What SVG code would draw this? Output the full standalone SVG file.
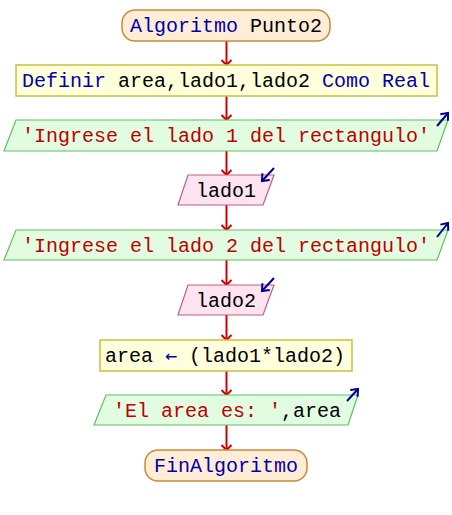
<svg xmlns="http://www.w3.org/2000/svg" width="452" height="515" viewBox="0 0 452 515">
<defs>
<style>
.t{font-family:"Liberation Mono","DejaVu Sans Mono",monospace;font-size:20px;text-anchor:middle}
.kw{fill:#0000b0}
.id{fill:#000000}
.st{fill:#c00000}
.term{fill:#ffeed5;stroke:#c88a3c;stroke-width:1.5}
.proc{fill:#ffffdc;stroke:#c8c040;stroke-width:1.5}
.out{fill:#e2fce2;stroke:#60c060;stroke-width:1.2}
.in{fill:#fde4f0;stroke:#c06080;stroke-width:1.2}
.flow{stroke:#d00000;stroke-width:2;fill:none}
.io{stroke:#000090;stroke-width:2;fill:none}
</style>
<marker id="ah" markerUnits="userSpaceOnUse" viewBox="-7 -7 9 14" markerWidth="9" markerHeight="14" refX="0" refY="0" orient="auto">
<path d="M-5,-5 L0,0 L-5,5" stroke="#d00000" stroke-width="2" fill="none"/>
</marker>
<marker id="bh" markerUnits="userSpaceOnUse" viewBox="-8 -8 10 16" markerWidth="10" markerHeight="16" refX="0" refY="0" orient="auto">
<path d="M-6,-5 L0,0 L-6,5" stroke="#000090" stroke-width="2" fill="none"/>
</marker>
</defs>
<rect width="452" height="515" fill="#ffffff"/>
<g id="connectors">
<path class="flow" d="M226.5,41 V65" marker-end="url(#ah)"/>
<path class="flow" d="M226.5,96 V120" marker-end="url(#ah)"/>
<path class="flow" d="M226.5,151 V175" marker-end="url(#ah)"/>
<path class="flow" d="M226.5,205 V230" marker-end="url(#ah)"/>
<path class="flow" d="M226.5,260 V285" marker-end="url(#ah)"/>
<path class="flow" d="M226.5,315 V340" marker-end="url(#ah)"/>
<path class="flow" d="M226.5,371 V395" marker-end="url(#ah)"/>
<path class="flow" d="M226.5,425 V450" marker-end="url(#ah)"/>
</g>
<g id="start">
<rect class="term" x="122" y="10" width="208" height="31" rx="13"/>
<text class="t" x="226" y="32"><tspan class="kw">Algoritmo</tspan><tspan class="id"> Punto2</tspan></text>
</g>
<g id="definir">
<rect class="proc" x="16" y="65" width="421" height="31"/>
<text class="t" x="226" y="87"><tspan class="kw">Definir</tspan><tspan class="id"> area,lado1,lado2 </tspan><tspan class="kw">Como Real</tspan></text>
</g>
<g id="escribir1">
<polygon class="out" points="16,120 448,120 437,151 4,151"/>
<path class="io" d="M437,126 L448,113" marker-end="url(#bh)"/>
<text class="t st" x="226" y="142">'Ingrese el lado 1 del rectangulo'</text>
</g>
<g id="leer1">
<polygon class="in" points="188,175 274,175 263,205 178,205"/>
<path class="io" d="M274,168 L262,181" marker-end="url(#bh)"/>
<text class="t id" x="226" y="197">lado1</text>
</g>
<g id="escribir2">
<polygon class="out" points="16,230 448,230 437,260 4,260"/>
<path class="io" d="M437,237 L448,223" marker-end="url(#bh)"/>
<text class="t st" x="226" y="252">'Ingrese el lado 2 del rectangulo'</text>
</g>
<g id="leer2">
<polygon class="in" points="188,285 274,285 263,315 178,315"/>
<path class="io" d="M274,278 L262,291" marker-end="url(#bh)"/>
<text class="t id" x="226" y="307">lado2</text>
</g>
<g id="asignar">
<rect class="proc" x="100" y="340" width="252" height="31"/>
<text class="t" x="225" y="362"><tspan class="id">area </tspan><tspan class="kw" font-family="DejaVu Sans Mono">←</tspan><tspan class="id"> (lado1*lado2)</tspan></text>
</g>
<g id="escribir3">
<polygon class="out" points="106,395 358,395 348,425 94,425"/>
<path class="io" d="M347,401 L358,389" marker-end="url(#bh)"/>
<text class="t" x="227" y="417"><tspan class="st">'El area es: '</tspan><tspan class="id">,area</tspan></text>
</g>
<g id="fin">
<rect class="term" x="145" y="450" width="162" height="31" rx="13"/>
<text class="t kw" x="226" y="472">FinAlgoritmo</text>
</g>
</svg>
